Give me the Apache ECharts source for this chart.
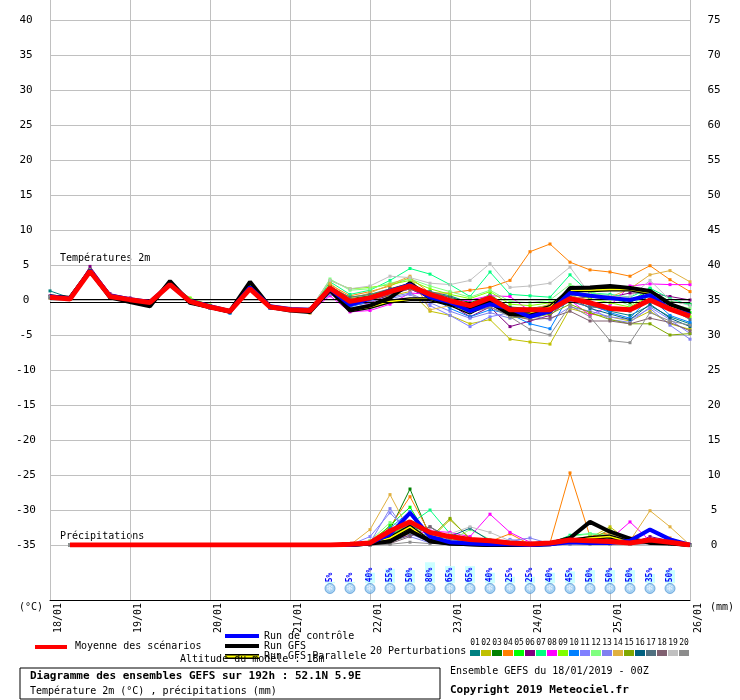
<!DOCTYPE html>
<html>
<head>
<meta charset="utf-8">
<script src="https://cdn.jsdelivr.net/npm/echarts@6/dist/echarts.min.js"></script>
<style>html,body{margin:0;padding:0;background:#fff}#chart{width:740px;height:700px}</style>
</head>
<body>
<div id="chart"></div>
<script>
// axes / labels
var days = ['18/01', '19/01', '20/01', '21/01', '22/01', '23/01', '24/01', '25/01', '26/01'];
var pertNames = ['01','02','03','04','05','06','07','08','09','10','11','12','13','14','15','16','17','18','19','20'];
var pertColors = ['#008080','#c0c000','#008000','#ff8000','#00ff00','#800080','#00ff80','#ff00ff','#80ff00','#0080ff',
                  '#8080ff','#80ff80','#8080f0','#e0b040','#80a800','#006080','#507080','#806070','#c0c0c0','#8c8c8c'];

// temperature 2m (°C), 6h steps from 18/01 00h to 26/01 00h
var tMean = [0.4,0.15,4.1,0.5,0.05,-0.35,2.2,-0.2,-1.0,-1.6,1.6,-1.0,-1.4,-1.5,1.7,-0.2,0.3,1.2,2.0,0.8,-0.1,-0.8,0.3,-1.4,-1.4,-1.4,0.2,-0.4,-1.2,-1.4,0.0,-1.3,-2.3];
var tGfs  = [0.5,0.3,4.2,0.4,-0.3,-0.9,2.7,-0.4,-1.0,-1.6,2.6,-1.0,-1.5,-1.7,1.5,-1.4,-0.8,0.3,2.4,0.3,-0.6,-1.2,-0.4,-2.0,-2.2,-1.6,1.7,1.8,2.0,1.7,1.3,-0.6,-1.6];
var tCtrl = [0.5,0.2,4.2,0.6,0.1,-0.3,2.2,-0.1,-0.9,-1.6,1.8,-0.9,-1.3,-1.4,1.6,-0.7,0.2,1.3,2.2,0.4,-0.3,-1.6,-0.6,-1.2,-2.4,-1.6,1.0,0.6,0.3,0.0,0.7,-1.3,-2.1];
var tPara = [0.5,0.3,4.1,0.5,-0.1,-0.6,2.5,-0.3,-1.0,-1.7,2.2,-1.0,-1.4,-1.6,1.4,-1.5,-1.0,-0.2,0.1,0.1,-0.6,-1.8,-0.3,-2.0,-1.9,-1.0,1.4,1.4,1.5,1.5,1.0,-1.0,-2.0];
var tPert = [
  [1.3,0.3,4.0,0.6,0.1,-0.4,2.1,-0.2,-1.1,-1.7,1.5,-1.1,-1.4,-1.6,1.6,-0.6,0.2,1.0,1.8,1.2,0.6,-0.4,0.0,-1.6,-1.8,-1.0,0.4,-0.8,-1.6,-2.2,-0.8,-2.4,-3.4],
  [0.5,0.1,4.2,0.4,0.0,-0.3,2.3,-0.3,-1.0,-1.5,1.7,-0.9,-1.5,-1.4,1.2,-0.8,0.0,0.6,1.2,-1.6,-2.2,-3.4,-2.8,-5.6,-6.0,-6.3,-1.2,-2.0,-2.4,-3.0,-1.6,-3.4,-4.2],
  [0.4,0.2,4.0,0.6,0.1,-0.5,2.0,-0.1,-0.9,-1.6,1.5,-1.0,-1.3,-1.6,2.0,0.2,0.6,1.6,2.4,1.0,0.4,-0.4,0.6,-1.0,-1.2,-0.8,0.8,0.4,0.2,-0.4,1.4,-0.2,-0.6],
  [0.5,0.2,4.1,0.5,0.1,-0.3,2.2,-0.2,-1.0,-1.6,1.7,-1.0,-1.3,-1.2,2.2,0.6,1.2,2.0,3.2,1.0,1.0,1.4,1.8,2.8,6.9,8.0,5.4,4.3,4.0,3.4,4.9,2.9,1.2],
  [0.3,0.1,4.3,0.4,0.0,-0.4,2.3,0.2,-0.8,-1.5,1.8,-0.8,-1.2,-1.4,1.8,0.4,0.8,1.4,2.2,1.0,0.0,-0.6,0.8,-1.2,-1.6,-1.4,1.2,0.8,0.6,-0.2,1.6,-1.0,-1.8],
  [0.6,0.2,4.8,0.9,0.3,-0.2,2.4,-0.1,-0.9,-1.6,1.6,-1.1,-1.4,-1.5,1.4,-0.8,-0.4,0.8,1.6,0.2,-0.6,-2.4,-1.0,-3.8,-3.0,-2.2,0.2,0.4,0.4,1.0,1.0,0.5,0.0],
  [0.4,0.1,4.0,0.5,0.1,-0.3,2.0,-0.3,-1.1,-1.7,1.4,-1.0,-1.5,-1.6,2.6,0.8,1.4,2.8,4.5,3.7,2.2,0.5,4.0,0.8,0.6,0.4,3.6,1.0,0.8,0.4,1.7,0.2,-0.7],
  [0.3,0.1,4.1,0.6,0.0,-0.4,2.1,-0.2,-1.0,-1.6,1.5,-1.1,-1.4,-1.7,0.6,-1.7,-1.5,-0.6,1.0,0.8,-0.4,0.0,0.6,0.5,-1.6,-1.0,0.0,-2.2,-0.8,2.0,2.3,2.2,2.2],
  [0.5,0.2,4.2,0.5,0.2,-0.2,2.3,0.3,-0.7,-1.5,1.7,-0.9,-1.3,-1.3,2.8,1.6,1.8,2.2,2.8,1.6,0.8,0.2,1.2,-0.6,-0.8,-0.4,1.0,0.2,-0.4,-1.0,0.6,-1.4,-2.4],
  [0.4,0.1,4.0,0.4,0.0,-0.5,2.0,-0.4,-1.2,-1.9,1.4,-1.2,-1.5,-1.7,1.2,-1.0,-0.2,1.2,1.8,0.6,-1.2,-2.4,-1.4,-2.0,-3.4,-4.1,0.8,-0.6,-1.8,-2.6,0.4,-2.2,-3.2],
  [0.5,0.2,4.1,0.6,0.1,-0.3,2.2,-0.2,-1.0,-1.6,1.6,-1.0,-1.4,-1.5,1.0,-1.2,-0.6,0.2,0.8,-0.8,-2.2,-3.8,-2.4,-1.8,-2.6,-1.4,-0.2,-1.0,-2.8,-3.2,-1.0,-2.8,-4.8],
  [0.4,0.2,4.2,0.5,0.1,-0.3,2.4,0.1,-0.9,-1.5,1.8,-0.9,-1.3,-1.4,3.0,1.4,1.6,2.4,3.0,2.0,1.2,0.4,1.4,-0.2,-0.4,0.0,2.2,1.2,0.4,-0.8,1.0,-0.6,-1.2],
  [0.5,0.1,4.0,0.5,0.0,-0.4,2.1,-0.3,-1.1,-1.7,1.5,-1.1,-1.5,-1.6,0.8,-0.4,-0.2,0.4,1.0,-0.4,-1.6,-2.6,-1.8,-2.6,-2.2,-2.8,-1.0,-1.6,-2.4,-2.8,-1.2,-3.6,-5.6],
  [0.4,0.2,4.1,0.6,0.1,-0.3,2.2,-0.2,-1.0,-1.6,1.6,-1.0,-1.3,-1.9,2.4,0.2,1.0,2.2,3.4,-1.4,-0.8,-1.0,0.0,-2.0,-1.4,-0.6,0.6,0.0,0.4,1.6,3.6,4.2,2.6],
  [0.3,0.1,4.2,0.5,0.0,-0.4,2.2,-0.1,-1.0,-1.6,1.6,-1.0,-1.4,-1.5,1.6,0.0,0.4,1.2,2.0,0.8,-0.4,-1.2,-0.2,-2.4,-2.6,-2.0,-0.6,-1.8,-2.8,-3.4,-3.4,-5.0,-4.8],
  [0.5,0.2,4.0,0.4,0.1,-0.3,2.1,-0.2,-1.1,-1.8,1.5,-1.1,-1.4,-1.6,1.4,-0.2,0.4,1.2,2.2,0.8,-0.2,-1.0,0.2,-1.8,-2.2,-1.6,0.4,-1.2,-2.0,-2.8,-0.6,-2.6,-3.8],
  [0.4,0.1,4.1,0.5,0.0,-0.4,2.2,-0.2,-1.0,-1.6,1.6,-1.0,-1.4,-1.5,1.8,0.4,0.8,1.6,2.0,1.2,0.4,-0.8,0.4,-1.4,-2.0,-1.8,-0.2,-1.0,-1.2,-1.6,0.8,-1.2,-2.8],
  [0.5,0.2,4.3,0.7,0.2,-0.3,2.3,-0.1,-0.9,-1.6,1.7,-1.0,-1.3,-1.4,1.2,-0.6,0.0,0.8,1.6,0.4,-0.8,-1.8,-1.0,-2.2,-2.8,-2.6,-1.6,-3.0,-3.0,-3.4,-2.6,-3.2,-4.4],
  [0.4,0.2,4.1,0.6,0.1,-0.3,2.2,-0.2,-1.0,-1.6,1.6,-1.0,-1.2,-1.2,2.8,1.6,2.0,3.4,3.2,2.4,2.2,2.8,5.2,1.8,2.0,2.4,4.7,0.8,0.6,0.4,2.8,0.0,-0.8],
  [0.4,0.1,4.0,0.5,0.1,-0.4,2.1,-0.2,-1.1,-1.7,1.5,-1.0,-1.4,-1.8,1.4,-0.4,0.2,1.0,1.8,0.4,-0.8,-1.8,-1.0,-2.4,-4.2,-5.0,-0.8,-2.4,-5.8,-6.1,-1.8,-3.0,-3.6]
];

// precipitations (mm / 6h), first step has no value
var pMean = [null,0,0,0,0,0,0,0,0,0,0,0,0,0,0,0.1,0.3,2.0,3.3,1.8,1.2,0.8,0.6,0.3,0.15,0.3,0.7,0.6,0.5,0.3,0.7,0.4,0];
var pGfs  = [null,0,0,0,0,0,0,0,0,0,0,0,0,0,0,0,0.2,0.5,2.0,0.6,0.2,0.1,0,0,0,0.2,1.0,3.3,1.9,0.9,0.3,0.2,0];
var pCtrl = [null,0,0,0,0,0,0,0,0,0,0,0,0,0,0,0,0.3,1.5,4.6,1.2,0.4,0.2,0.1,0.1,0,0.1,0.4,0.3,0.3,0.6,2.2,0.8,0];
var pPara = [null,0,0,0,0,0,0,0,0,0,0,0,0,0,0,0,0.2,1.0,2.6,0.5,0.2,0.1,0,0,0,0.1,0.6,1.0,1.2,0.4,0.6,0.3,0];
var pPert = [
  [null,0,0,0,0,0,0,0,0,0,0,0,0,0,0,0,0.3,1.5,2.8,0.6,0.4,1.0,0.4,0.2,0,0.2,0.8,0.6,0.4,0.2,0.6,0.2,0],
  [null,0,0,0,0,0,0,0,0,0,0,0,0,0,0,0,0.2,0.6,1.6,0.8,3.6,1.0,0.6,0.3,0,0.2,0.6,1.0,2.6,0.4,0.4,0.2,0],
  [null,0,0,0,0,0,0,0,0,0,0,0,0,0,0,0,0.5,2.2,8.0,1.2,1.0,0.6,0.4,0.2,0.1,0.1,0.6,0.6,0.5,0.3,0.6,0.2,0],
  [null,0,0,0,0,0,0,0,0,0,0,0,0,0,0,0,0.6,2.6,6.9,1.6,0.8,0.6,0.5,1.6,0.1,0.3,10.3,1.2,1.8,1.0,2.2,1.0,0],
  [null,0,0,0,0,0,0,0,0,0,0,0,0,0,0,0,0.2,2.8,5.4,0.8,0.4,0.3,0.2,0.1,0,0.1,0.4,0.6,0.6,0.2,0.4,0.1,0],
  [null,0,0,0,0,0,0,0,0,0,0,0,0,0,0,0,0.1,0.8,2.6,1.0,0.4,0.2,0.2,0.1,0,0.1,0.3,0.4,0.3,0.2,1.2,0.6,0],
  [null,0,0,0,0,0,0,0,0,0,0,0,0,0,0,0,0.2,1.4,3.0,5.0,1.6,0.8,0.3,0.1,0,0.2,1.4,1.6,1.4,0.4,0.6,0.3,0],
  [null,0,0,0,0,0,0,0,0,0,0,0,0,0,0,0,0.1,0.6,1.4,2.0,1.8,1.2,4.4,1.8,0.4,0.2,0.3,0.6,0.8,3.3,0.6,0.2,0],
  [null,0,0,0,0,0,0,0,0,0,0,0,0,0,0,0,0.2,1.2,3.2,0.6,0.4,0.2,0.1,0,0,0.1,0.8,1.2,1.0,0.2,0.4,0.1,0],
  [null,0,0,0,0,0,0,0,0,0,0,0,0,0,0,0,0.4,2.4,4.8,0.6,0.3,0.2,0.2,0.1,0,0.1,0.2,0.3,0.2,0.1,0.5,0.2,0],
  [null,0,0,0,0,0,0,0,0,0,0,0,0,0,0,0,1.2,4.6,1.6,0.4,0.6,0.4,0.2,0.8,0.3,0.1,0.2,0.2,0.1,0.1,0.2,0.1,0],
  [null,0,0,0,0,0,0,0,0,0,0,0,0,0,0,0,0.6,3.2,2.4,1.0,0.6,2.2,0.8,0.2,0,0.3,1.2,1.6,1.4,0.6,0.8,0.2,0],
  [null,0,0,0,0,0,0,0,0,0,0,0,0,0,0,0,0.3,5.2,1.2,0.3,0.2,0.3,0.5,0.6,1.0,0.2,0.1,0.2,0.1,0.1,0.3,0.1,0],
  [null,0,0,0,0,0,0,0,0,0,0,0,0,0,0,0,2.2,7.2,1.8,0.8,0.4,0.2,0.1,0.1,0,0.2,0.6,1.0,1.6,0.6,4.9,2.6,0],
  [null,0,0,0,0,0,0,0,0,0,0,0,0,0,0,0,0.2,0.8,2.0,1.0,3.8,0.8,0.2,0.1,0,0.1,0.3,0.8,2.2,0.6,0.8,0.2,0],
  [null,0,0,0,0,0,0,0,0,0,0,0,0,0,0,0,0.1,0.8,2.8,1.6,1.2,2.4,0.6,0.2,0.1,0.1,0.3,0.2,0.2,0.1,0.3,0.1,0],
  [null,0,0,0,0,0,0,0,0,0,0,0,0,0,0,0,0,0.4,1.4,2.6,1.0,0.4,0.2,0.1,0,0.1,0.2,0.3,0.2,0.2,0.4,0.1,0],
  [null,0,0,0,0,0,0,0,0,0,0,0,0,0,0,0,0,0.2,1.2,2.6,0.6,0.3,0.2,0.1,0,0.1,0.2,0.3,0.2,0.1,0.6,0.2,0],
  [null,0,0,0,0,0,0,0,0,0,0,0,0,0,0,0,0.1,0.6,1.8,1.2,1.6,2.6,1.8,0.6,0.3,0.2,0.2,0.2,0.1,0.1,0.2,0.1,0],
  [null,0,0,0,0,0,0,0,0,0,0,0,0,0,0,0,0,0.1,0.4,0.2,0.2,0.4,0.6,0.2,0.1,0.1,0.2,0.1,0.1,0.1,0.2,0.1,0]
];

// probabilité de neige (%), steps 14 to 31
var snowSteps = [14,15,16,17,18,19,20,21,22,23,24,25,26,27,28,29,30,31];
var snowPct   = [5,5,40,55,50,80,65,65,40,25,25,40,45,50,50,50,35,50];

var FONT = 'DejaVu Sans Mono';
var myChart = echarts.init(document.getElementById('chart'));

function xy(arr) {
  return arr.map(function (v, i) { return [i, v]; });
}
function line(name, data, color, width, yIdx, z, marks) {
  return {
    name: name, type: 'line', xAxisIndex: 0, yAxisIndex: yIdx, data: xy(data),
    lineStyle: { color: color, width: width }, itemStyle: { color: color },
    symbol: marks ? 'rect' : 'none', symbolSize: 3, showSymbol: !!marks,
    z: z, silent: true, connectNulls: false
  };
}

var series = [];
// double trait noir à 0°C
series.push({
  type: 'line', xAxisIndex: 0, yAxisIndex: 0, data: [], silent: true, z: 1,
  markLine: { silent: true, symbol: 'none', label: { show: false },
    lineStyle: { color: '#000', width: 1, type: 'solid' },
    data: [{ yAxis: 0.15 }, { yAxis: -0.28 }] }
});
tPert.forEach(function (d, k) { series.push(line('T' + pertNames[k], d, pertColors[k], 1, 0, 2, true)); });
pPert.forEach(function (d, k) { series.push(line('P' + pertNames[k], d, pertColors[k], 1, 1, 2, true)); });
[[tPara, 0], [pPara, 1]].forEach(function (p) {
  series.push(line('para', p[0], '#000', 4, p[1], 3));
  series.push(line('para2', p[0], '#ffff00', 1.5, p[1], 4));
});
series.push(line('gfs', tGfs, '#000', 4, 0, 5));
series.push(line('gfs', pGfs, '#000', 4, 1, 5));
series.push(line('ctrl', tCtrl, '#0000ff', 4, 0, 6));
series.push(line('ctrl', pCtrl, '#0000ff', 4, 1, 6));
series.push(line('mean', tMean, '#ff0000', 5, 0, 7));
series.push(line('mean', pMean, '#ff0000', 5, 1, 7));

series.push({
  type: 'bar', xAxisIndex: 2, yAxisIndex: 3, barWidth: 10, silent: true,
  data: snowSteps.map(function (s, k) { return [s, snowPct[k]]; }),
  itemStyle: { color: '#ccffff' },
  label: { show: true, position: 'insideBottom', distance: 1, rotate: 90, align: 'left', verticalAlign: 'middle',
    formatter: function (p) { return p.value[1] + '%'; },
    color: '#0000ff', fontFamily: FONT, fontSize: 8, fontWeight: 'bold' }
});
series.push({
  type: 'scatter', xAxisIndex: 2, yAxisIndex: 3, silent: true, symbol: 'circle', symbolSize: 10,
  data: snowSteps.map(function (s) { return [s, -20]; }),
  itemStyle: { color: '#8ec6f0', borderColor: '#5a9bd5', borderWidth: 1 },
  label: { show: true, position: 'inside', formatter: '\u2744', color: '#ffffff', fontSize: 9 }
});

var grey = '#c0c0c0';
var txt = { color: '#000', fontFamily: FONT, fontSize: 11 };

// légende et cartouche
var graphics = [
  { type: 'text', left: 60, top: 253, style: { text: 'Températures 2m', fill: '#000', font: '10px ' + FONT } },
  { type: 'text', left: 60, top: 531, style: { text: 'Précipitations', fill: '#000', font: '10px ' + FONT } },
  { type: 'text', left: 19, top: 602, style: { text: '(°C)', fill: '#000', font: '10px ' + FONT } },
  { type: 'text', left: 710, top: 602, style: { text: '(mm)', fill: '#000', font: '10px ' + FONT } },
  { type: 'rect', shape: { x: 35, y: 645, width: 32, height: 4 }, style: { fill: '#ff0000' } },
  { type: 'text', left: 75, top: 641, style: { text: 'Moyenne des scénarios', fill: '#000', font: '10px ' + FONT } },
  { type: 'rect', shape: { x: 225, y: 634, width: 34, height: 4 }, style: { fill: '#0000ff' } },
  { type: 'text', left: 264, top: 631, style: { text: 'Run de contrôle', fill: '#000', font: '10px ' + FONT } },
  { type: 'rect', shape: { x: 225, y: 644, width: 34, height: 4 }, style: { fill: '#000' } },
  { type: 'text', left: 264, top: 641, style: { text: 'Run GFS', fill: '#000', font: '10px ' + FONT } },
  { type: 'rect', shape: { x: 225, y: 654, width: 34, height: 5 }, style: { fill: '#000' } },
  { type: 'rect', shape: { x: 225, y: 655.5, width: 34, height: 2 }, style: { fill: '#ffff00' } },
  { type: 'text', left: 264, top: 651, style: { text: 'Run GFS Parallele', fill: '#000', font: '10px ' + FONT } },
  { type: 'text', left: 180, top: 654, style: { text: 'Altitude du modèle : 18m', fill: '#000', font: '10px ' + FONT } },
  { type: 'text', left: 370, top: 646, style: { text: '20 Perturbations', fill: '#000', font: '10px ' + FONT } },
  { type: 'rect', shape: { x: 20, y: 668, width: 420, height: 31 }, style: { fill: '#fff', stroke: '#000', lineWidth: 1 } },
  { type: 'text', left: 30, top: 671, style: { text: 'Diagramme des ensembles GEFS sur 192h : 52.1N 5.9E', fill: '#000', font: 'bold 11px ' + FONT } },
  { type: 'text', left: 30, top: 686, style: { text: 'Température 2m (°C) , précipitations (mm)', fill: '#000', font: '10px ' + FONT } },
  { type: 'text', left: 450, top: 666, style: { text: 'Ensemble GEFS du 18/01/2019 - 00Z', fill: '#000', font: '10px ' + FONT } },
  { type: 'text', left: 450, top: 685, style: { text: 'Copyright 2019 Meteociel.fr', fill: '#000', font: 'bold 11px ' + FONT } }
];
pertNames.forEach(function (n, k) {
  graphics.push({ type: 'text', x: 475 + 11 * k, y: 643, style: { text: n, fill: '#000', font: '8px ' + FONT, textAlign: 'center', textVerticalAlign: 'middle' } });
  graphics.push({ type: 'rect', shape: { x: 470 + 11 * k, y: 650, width: 10, height: 6 }, style: { fill: pertColors[k] } });
});

var option = {
  backgroundColor: '#fff',
  animation: false,
  grid: [
    { left: 50, width: 640, top: 20, height: 525 },
    { left: 50, width: 640, top: 0, height: 600 },
    { left: 50, width: 640, top: 557, height: 38 }
  ],
  xAxis: [
    { gridIndex: 0, type: 'value', min: 0, max: 32, show: false },
    { gridIndex: 1, type: 'value', min: 0, max: 32, interval: 4,
      axisLine: { show: true, lineStyle: { color: '#000', width: 1 } }, axisTick: { show: false },
      splitLine: { show: true, lineStyle: { color: grey, width: 1 } },
      axisLabel: { rotate: 90, margin: 3, align: 'right', verticalAlign: 'top', padding: [3, 0, 0, 0],
        color: '#000', fontFamily: FONT, fontSize: 10,
        formatter: function (v) { return days[v / 4]; } } },
    { gridIndex: 2, type: 'value', min: 0, max: 32, show: false }
  ],
  yAxis: [
    { gridIndex: 0, type: 'value', min: -35, max: 40, interval: 5, position: 'left',
      axisLine: { show: false }, axisTick: { show: false },
      splitLine: { show: true, lineStyle: { color: grey, width: 1 } },
      axisLabel: Object.assign({ margin: 24, align: 'center' }, txt) },
    { gridIndex: 0, type: 'value', min: 0, max: 75, interval: 5, position: 'right',
      axisLine: { show: false }, axisTick: { show: false }, splitLine: { show: false },
      axisLabel: Object.assign({ margin: 24, align: 'center' }, txt) },
    { gridIndex: 1, type: 'value', min: 0, max: 1, show: false },
    { gridIndex: 2, type: 'value', min: -45, max: 100, show: false }
  ],
  graphic: graphics,
  series: series
};

myChart.setOption(option);
</script>
</body>
</html>
